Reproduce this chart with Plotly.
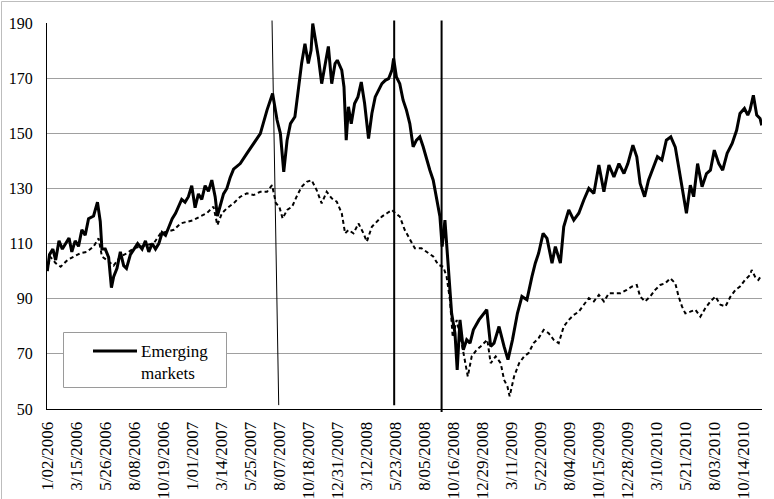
import plotly.graph_objects as go

# ---------------- data ----------------
tick_labels = ["1/02/2006", "3/15/2006", "5/26/2006", "8/08/2006", "10/19/2006",
               "1/01/2007", "3/14/2007", "5/25/2007", "8/07/2007", "10/18/2007",
               "12/31/2007", "3/12/2008", "5/23/2008", "8/05/2008", "10/16/2008",
               "12/29/2008", "3/11/2009", "5/22/2009", "8/04/2009", "10/15/2009",
               "12/28/2009", "3/10/2010", "5/21/2010", "8/03/2010", "10/14/2010"]
tick_step = 52          # trading days between labels
n_days = 1282           # trading days in the sample

em_day = [0, 4, 10, 15, 21, 27, 33, 39, 44, 50, 56, 62, 68, 74, 83, 90, 95, 98, 104, 110,
          115, 119, 125, 131, 137, 142, 149, 155, 162, 170, 176, 182, 188, 194, 200, 206,
          212, 218, 224, 230, 235, 241, 247, 253, 259, 265, 271, 277, 283, 289, 295, 301,
          305, 310, 316, 322, 328, 334, 340, 346, 358, 370, 382, 394, 404, 412, 418, 424,
          430, 436, 444, 450, 456, 462, 468, 473, 476, 480, 486, 492, 498, 504, 510, 516,
          520, 528, 532, 536, 540, 545, 551, 557, 563, 569, 576, 582, 588, 594, 600, 606,
          612, 618, 621, 626, 632, 638, 644, 650, 656, 662, 668, 674, 680, 686, 692, 698,
          704, 708, 713, 719, 725, 731, 735, 740, 746, 752, 758, 764, 774, 788, 795, 801,
          810, 819, 826, 834, 843, 851, 860, 869, 875, 881, 889, 896, 905, 911, 920, 926,
          935, 944, 953, 962, 971, 980, 989, 998, 1007, 1016, 1025, 1034, 1041, 1050, 1057,
          1063, 1071, 1078, 1087, 1094, 1102, 1110, 1118, 1126, 1132, 1138, 1146, 1153,
          1159, 1166, 1174, 1182, 1189, 1196, 1204, 1211, 1219, 1228, 1236, 1242, 1250,
          1256, 1260, 1266, 1272, 1278, 1281]
em_val = [100, 106, 108, 104, 111, 108, 110, 112, 107, 111, 109, 115, 113, 119, 120, 125, 118,
          108, 108, 105, 94, 98, 101, 107, 102, 101, 106, 108, 110, 108, 111, 107, 110, 108,
          110, 114, 113, 116, 119, 121, 123, 126, 125, 127, 131, 123, 128, 126, 131, 129, 133,
          127, 120, 124, 128, 130, 134, 137, 138, 139, 142.7, 146.3, 149.9, 158.4, 164.4,
          154.8, 149.9, 136, 147.5, 153.5, 156, 165.6, 175.3, 182.5, 175.3, 180.1, 189.8,
          184.9, 177.7, 168, 174.1, 181.5, 168, 175.3, 176.5, 172.9, 166.8, 147.5, 159.6,
          153.5, 160.8, 163.2, 168.6, 160.8, 148.1, 157.2, 163.2, 165.6, 168, 169.2, 169.8,
          172.9, 177.1, 170.4, 168, 162, 158.4, 153.5, 145.1, 147.5, 148.7, 145.1, 140.3,
          136.6, 133, 127, 119.8, 108.9, 118.5, 101.6, 84.7, 77.5, 64.2, 82.3, 71.5, 75.1,
          73.9, 78.7, 82.3, 86, 72.7, 73.9, 79.9, 72.7, 67.9, 75, 84.7, 90.8, 89.6, 98,
          102.9, 106.5, 113.7, 111.9, 102.9, 108.9, 102.9, 116.1, 122.2, 118.5, 121, 125.8,
          130, 128.2, 138.5, 128.8, 138.5, 134.2, 139, 135.4, 139, 145.7, 141.5, 131.8, 127,
          133, 137.9, 141.5, 140.3, 147.5, 148.7, 145, 137.9, 130.6, 121, 131.2, 127, 139,
          130.6, 135.4, 136.6, 143.9, 139, 136.6, 142.7, 146.3, 151.1, 157.2, 159, 156.6,
          158.4, 163.8, 156.6, 155.4, 152.9]

dm_day = [0, 5, 15, 24, 36, 48, 59, 71, 83, 92, 98, 107, 119, 131, 143, 155, 167, 179, 191,
          203, 215, 227, 239, 251, 262, 274, 286, 298, 305, 313, 322, 334, 346, 358, 370, 382,
          394, 403, 410, 416, 422, 430, 439, 447, 456, 465, 474, 483, 492, 501, 510, 519, 528,
          534, 540, 549, 558, 567, 573, 582, 591, 600, 609, 618, 624, 632, 641, 650, 659, 671,
          683, 692, 701, 710, 716, 722, 727, 734, 743, 754, 761, 770, 777, 789, 795, 804, 813,
          819, 825, 829, 837, 846, 855, 863, 872, 881, 890, 899, 908, 917, 926, 935, 944, 953,
          962, 971, 980, 989, 998, 1007, 1016, 1028, 1039, 1048, 1057, 1063, 1072, 1081, 1090,
          1099, 1108, 1117, 1126, 1132, 1138, 1144, 1153, 1162, 1171, 1180, 1189, 1198, 1207,
          1216, 1225, 1234, 1242, 1251, 1260, 1263, 1269, 1275, 1279]
dm_val = [100, 105.3, 102.9, 101.6, 104, 105.3, 106.5, 107, 108.9, 111.9, 105.3, 104, 102,
          105.3, 106.5, 108.3, 108.9, 109.5, 110.1, 113.7, 114.3, 115, 117.3, 117.9, 118.5,
          119.8, 121, 123.4, 116.7, 121, 122.8, 124.6, 127, 128.2, 127.6, 128.8, 128.8, 131.2,
          124.6, 123.4, 119.1, 122.2, 123.4, 127, 130.6, 132.4, 133, 129.4, 124.6, 128.8,
          126.4, 125.2, 121, 113.7, 114.9, 113.7, 117.3, 113.7, 110.7, 116.1, 117.9, 119.8,
          121, 122.2, 121, 119.8, 114.9, 111.3, 108.3, 108.3, 106.5, 105.3, 102.3, 101.6, 98,
          89.6, 76, 82.3, 73.9, 61.8, 69.1, 71.5, 72.7, 75.1, 66.6, 69.1, 66.6, 60.6, 58.2,
          54.6, 61.8, 66.6, 69.1, 70.3, 73.9, 75.7, 78.7, 77.5, 75.1, 73.9, 79.9, 82.3, 84.1,
          85.3, 87.8, 90.2, 89, 91.4, 89, 92, 92, 92, 93.2, 94.4, 95, 90.8, 89, 90.8, 93.2, 95,
          95.6, 97.4, 95.6, 90.8, 87.2, 84.7, 85.3, 86, 83.5, 86.6, 89, 90.8, 87.8, 87.2, 90.8,
          93.2, 94.4, 96.8, 98.6, 100.4, 98, 96.8, 98]

# event marker lines: (day at top, day at bottom, value at top, value at bottom, width)
event_top_day = [403, 622, 707]
event_bottom_day = [415, 622, 707]
event_top_val = [190.9, 190.9, 190.9]
event_bottom_val = [51.4, 51.4, 48.9]
event_width = [1, 2, 2]

legend_name = "Emerging<br>markets"
y_min, y_max, y_step = 50, 190, 20

# ---------------- layout geometry ----------------
W, H = 774, 499
ML, MR, MT, MB = 47, 12, 23, 90
PW, PH = W - ML - MR, H - MT - MB


def px_x(px):
    return (px - ML) / PW


def px_y(py):
    return (H - MB - py) / PH


def val_y(v):
    return (v - y_min) / (y_max - y_min)


SERIF = "Liberation Serif"

fig = go.Figure()
fig.add_trace(go.Scatter(x=dm_day, y=dm_val, mode="lines",
                         line=dict(color="black", width=2, dash="4px,3px"),
                         showlegend=False, hoverinfo="skip"))
fig.add_trace(go.Scatter(x=em_day, y=em_val, mode="lines",
                         line=dict(color="black", width=3),
                         showlegend=False, hoverinfo="skip"))

shapes = []
for d0, d1, v0, v1, w in zip(event_top_day, event_bottom_day, event_top_val,
                             event_bottom_val, event_width):
    shapes.append(dict(type="line", xref="x", yref="paper", x0=d0, x1=d1,
                       y0=val_y(v0), y1=val_y(v1),
                       line=dict(color="black", width=w)))

# outer chart border (top and left visible)
shapes.append(dict(type="line", xref="paper", yref="paper",
                   x0=px_x(1.5), x1=px_x(W), y0=px_y(1.5), y1=px_y(1.5),
                   line=dict(color="#bdbdbd", width=1)))
shapes.append(dict(type="line", xref="paper", yref="paper",
                   x0=px_x(1.5), x1=px_x(1.5), y0=px_y(1.5), y1=px_y(H),
                   line=dict(color="#bdbdbd", width=1)))

# legend box
shapes.append(dict(type="rect", xref="paper", yref="paper",
                   x0=px_x(63.5), x1=px_x(226.5), y0=px_y(332.5), y1=px_y(387.5),
                   fillcolor="white", line=dict(color="#9a9a9a", width=1), layer="above"))
shapes.append(dict(type="line", xref="paper", yref="paper",
                   x0=px_x(93), x1=px_x(137), y0=px_y(351), y1=px_y(351),
                   line=dict(color="black", width=3), layer="above"))

annotations = [dict(xref="paper", yref="paper", x=px_x(139), y=px_y(362),
                    xanchor="left", yanchor="middle", align="left", showarrow=False,
                    text=legend_name, font=dict(family=SERIF, size=17, color="black"))]

fig.update_layout(
    width=W, height=H,
    margin=dict(l=ML, r=MR, t=MT, b=MB, pad=0, autoexpand=False),
    paper_bgcolor="white", plot_bgcolor="white",
    shapes=shapes, annotations=annotations,
    font=dict(family=SERIF, color="black"),
    xaxis=dict(range=[-0.5, n_days - 0.5], automargin=False,
               tickmode="array",
               tickvals=[i * tick_step for i in range(len(tick_labels))],
               ticktext=tick_labels, tickangle=-90,
               tickfont=dict(family=SERIF, size=17, color="black"),
               showgrid=False, zeroline=False,
               showline=True, linecolor="black", linewidth=1,
               ticks="outside", ticklen=5, tickcolor="rgba(0,0,0,0)"),
    yaxis=dict(range=[y_min, y_max], dtick=y_step, tick0=y_min, automargin=False,
               tickfont=dict(family=SERIF, size=16, color="black"),
               showgrid=True, gridcolor="#a0a0a0", gridwidth=1, zeroline=False,
               showline=True, linecolor="black", linewidth=1,
               ticks="outside", ticklen=10, tickcolor="rgba(0,0,0,0)"),
)

fig.write_html("out.html")
